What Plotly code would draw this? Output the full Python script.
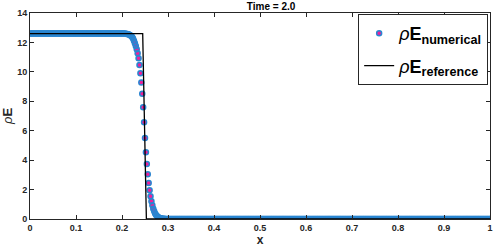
import numpy as np
import plotly.graph_objects as go

# ---- data ----
dx = 0.002
left_state = 12.6
right_state = 0.0
# numerical transition values at x = 0.206, 0.208, ... (step dx)
trans_start = 0.206
trans_vals = [12.60, 12.59, 12.58, 12.57, 12.55, 12.52, 12.49, 12.44, 12.37, 12.27,
              12.12, 11.94, 11.76, 11.54, 11.26, 10.92, 10.47, 9.90, 9.28, 8.51, 7.60,
              6.57, 5.51, 4.53, 3.74, 3.04, 2.45, 1.95, 1.54, 1.20, 0.93, 0.70, 0.52,
              0.38, 0.28, 0.20, 0.14, 0.10, 0.07, 0.05, 0.03, 0.02, 0.01, 0.01]
ref_x = [0.0, 0.245, 0.253, 1.0]
ref_y = [12.6, 12.6, 0.0, 0.0]
x_ticks = [0, 0.1, 0.2, 0.3, 0.4, 0.5, 0.6, 0.7, 0.8, 0.9, 1]
y_ticks = [0, 2, 4, 6, 8, 10, 12, 14]

# build the numerical series on its grid
x_num = np.round(np.arange(0, 1 + dx / 2, dx), 6)
i0 = int(round(trans_start / dx))
y_num = np.empty_like(x_num)
y_num[:i0] = left_state
y_num[i0:i0 + len(trans_vals)] = trans_vals
y_num[i0 + len(trans_vals):] = right_state

BLUE = "#2a86d1"
MAG = "#ee1f9a"
FONT = "Liberation Sans, Arial, sans-serif"
AX = "#262626"

fig = go.Figure()
# magenta faces
fig.add_trace(go.Scatter(x=x_num, y=y_num, mode="markers", showlegend=False,
                         marker=dict(symbol="circle", size=5, color=MAG, line=dict(width=0)),
                         hoverinfo="skip"))
# blue edges drawn on top
fig.add_trace(go.Scatter(x=x_num, y=y_num, mode="markers", showlegend=False,
                         marker=dict(symbol="circle-open", size=5, color=BLUE, line=dict(width=1.5, color=BLUE)),
                         hoverinfo="skip"))
# legend entry for numerical
fig.add_trace(go.Scatter(x=[None], y=[None], mode="markers", legendgroup="a",
                         name="<i>ρ</i><b>E</b><sub><b>numerical</b></sub>",
                         marker=dict(symbol="circle", size=5, color=MAG, line=dict(width=1.5, color=BLUE))))
# reference
fig.add_trace(go.Scatter(x=ref_x, y=ref_y, mode="lines", legendgroup="b",
                         name="<i>ρ</i><b>E</b><sub><b>reference</b></sub>",
                         line=dict(color="black", width=1.3)))

axis_common = dict(showline=True, linecolor=AX, linewidth=1, mirror="ticks", ticks="inside",
                   ticklen=4, tickwidth=1, tickcolor=AX, showgrid=False, zeroline=False,
                   automargin=False, ticklabeloverflow="allow",
                   tickfont=dict(family=FONT, size=9, color=AX, weight="bold"))

fig.update_layout(
    width=498, height=247,
    margin=dict(l=30, r=8, t=13, b=28),
    paper_bgcolor="white", plot_bgcolor="white",
    font=dict(family=FONT, color=AX),
    title=dict(text="<b>Time = 2.0</b>", x=261 / 498, xanchor="center", xref="paper",
               y=1 - 6 / 247, yanchor="middle", yref="container",
               font=dict(family=FONT, size=10, color="black")),
    xaxis=dict(range=[0, 1], tickvals=x_ticks, ticktext=[f"{t:g}" for t in x_ticks],
               title=dict(text="<b>x</b>", font=dict(family=FONT, size=12, color=AX), standoff=0),
               **axis_common),
    yaxis=dict(range=[0, 14], tickvals=y_ticks,
               title=dict(text="<i>ρ</i><b>E</b>", font=dict(family=FONT, size=13, color=AX), standoff=1),
               **axis_common),
    legend=dict(x=0.996, y=0.995, xanchor="right", yanchor="top",
                bgcolor="white", bordercolor=AX, borderwidth=1,
                font=dict(family=FONT, size=18, color="black"),
                itemwidth=30, traceorder="grouped", tracegroupgap=6),
    showlegend=True,
)

fig.write_html("out.html", config={"displayModeBar": False},
               post_script="document.body.style.margin='0';")
